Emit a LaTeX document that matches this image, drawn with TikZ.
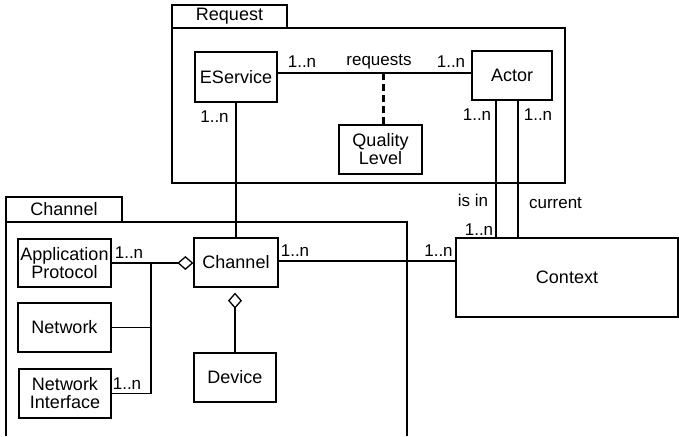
\documentclass[tikz,border=0pt]{standalone}
\usepackage{fontspec}
\setmainfont{Liberation Sans}
\usetikzlibrary{arrows.meta}
\begin{document}
\begin{tikzpicture}[x=1pt, y=-1pt, line width=1.3pt,
  cls/.style = {draw, align=center, inner sep=0pt, font=\fontsize{18}{18}\selectfont},
  tab/.style = {draw, inner sep=0pt, font=\fontsize{18}{16}\selectfont},
  mult/.style = {inner sep=0pt, font=\fontsize{17}{16}\selectfont},
  agg/.style = {-{Diamond[open, length=16pt, width=14pt]}}]
\useasboundingbox (0,0) rectangle (679,436);
% packages
\node[tab, minimum width=115pt, minimum height=23pt] (reqtab) at (229.5,16.5) {Request};
\node[draw, minimum width=393pt, minimum height=155pt] (reqpkg) at (368.5,105.5) {};
\node[tab, minimum width=116pt, minimum height=25pt] (chantab) at (64,209.5) {Channel};
\draw (6,436) -- (6,222) -- (407,222) -- (407,436);
% classes
\node[cls, minimum width=82pt, minimum height=50pt] (eservice) at (236,77) {EService};
\node[cls, minimum width=80pt, minimum height=49pt] (actor) at (512,75.5) {Actor};
\node[cls, minimum width=83pt, minimum height=49pt] (quality) at (380.5,149.5) {Quality\\Level};
\node[cls, minimum width=84pt, minimum height=49pt] (channel) at (236,262.5) {Channel};
\node[cls, minimum width=93pt, minimum height=48pt] (appproto) at (64.5,263) {Application\\Protocol};
\node[cls, minimum width=93pt, minimum height=49pt] (network) at (64.5,327.5) {Network};
\node[cls, minimum width=92pt, minimum height=49pt] (netif) at (65,393.5) {Network\\Interface};
\node[cls, minimum width=82pt, minimum height=49pt] (device) at (235,377.5) {Device};
\node[cls, minimum width=222pt, minimum height=79pt] (context) at (567,277.5) {Context};
% associations
\coordinate (reqL) at ([yshift=4pt]eservice.east);
\draw (reqL) -- (reqL -| actor.west);
\draw[line width=3pt, dash pattern=on 7pt off 4pt] (quality.north -| 383,0) -- (reqL -| 383,0);
\draw (eservice.south) -- (channel.north);
\draw ([xshift=-16pt]actor.south) -- ([xshift=-16pt]actor.south |- context.north);
\draw ([xshift=6pt]actor.south) -- ([xshift=6pt]actor.south |- context.north);
\coordinate (ctxL) at ([yshift=1.5pt]channel.east);
\draw (ctxL) -- (ctxL -| context.west);
\draw[agg] (appproto.east) -- (appproto.east -| channel.west);
\coordinate (bus) at (151,263);
\draw (netif.east) -- (netif.east -| bus) -- (bus);
\draw (network.east) -- (network.east -| bus);
\draw[agg, shorten >=5pt] (device.north) -- (device.north |- channel.south);
% labels
\node[mult] (m1) at (302,62) {1..n};
\node[mult] (lreq) at (379,62) {requests};
\node[mult] (m2) at (451,62) {1..n};
\node[mult] (m3) at (214.5,117) {1..n};
\node[mult] (m4) at (477,115) {1..n};
\node[mult] (m5) at (538,115) {1..n};
\node[mult] (lisin) at (473,200) {is in};
\node[mult] (lcur) at (555.5,203) {current};
\node[mult] (m6) at (479,230) {1..n};
\node[mult] (m7) at (438.5,251) {1..n};
\node[mult] (m8) at (295,251) {1..n};
\node[mult] (m9) at (129,253) {1..n};
\node[mult] (m10) at (127,384) {1..n};
\end{tikzpicture}
\end{document}
